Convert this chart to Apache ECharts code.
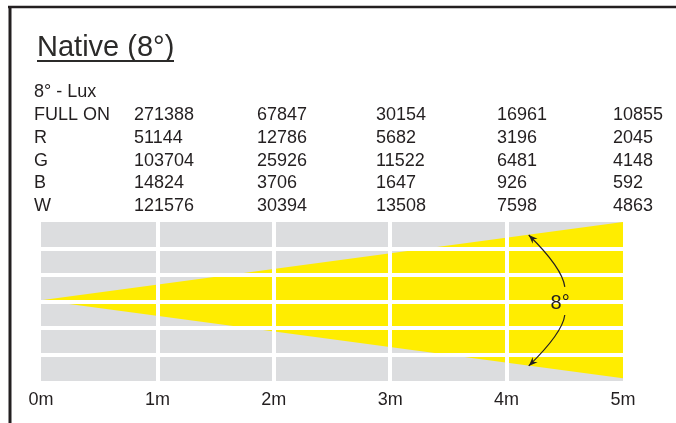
<!DOCTYPE html>
<html>
<head>
<meta charset="utf-8">
<script src="https://cdn.jsdelivr.net/npm/echarts@6/dist/echarts.min.js"></script>
<style>
  html, body { margin: 0; padding: 0; background: #fff; }
  #chart { width: 676px; height: 423px; }
</style>
</head>
<body>
<div id="chart"></div>
<script>
// table data (lux at 1m .. 5m)
const tableHeader = '8° - Lux';
const rowNames = ['FULL ON', 'R', 'G', 'B', 'W'];
const fullOn = [271388, 67847, 30154, 16961, 10855];
const red = [51144, 12786, 5682, 3196, 2045];
const green = [103704, 25926, 11522, 6481, 4148];
const blue = [14824, 3706, 1647, 926, 592];
const white = [121576, 30394, 13508, 7598, 4863];

// beam outline, metres along x / grid rows along y
const beamX = [0, 5, 5];
const beamY = [0.05, 3, -2.9];

// angle arrows: start (on beam edge), control point, end (near the label)
const arcStart = [[4.19, 2.51], [4.19, -2.43]];
const arcCtrl = [[4.48, 1.26], [4.48, -1.19]];
const arcEnd = [[4.5, 0.55], [4.5, -0.51]];
const angleLabel = '8°';
const angleLabelPos = [4.46, -0.06];

const textColor = '#231f20';
const font = 'Liberation Sans, Arial, sans-serif';

let chart = echarts.init(document.getElementById('chart'));

let rows = [fullOn, red, green, blue, white];
let colX = [134, 257, 376, 497, 613];
let rowY = [115, 138, 161, 183, 206];

let texts = [];
texts.push({
    type: 'text', x: 34, y: 92,
    style: { text: tableHeader, font: '18px ' + font, fill: textColor, verticalAlign: 'middle', textVerticalAlign: 'middle' }
});
for (let i = 0; i < rowNames.length; i++) {
    texts.push({
        type: 'text', x: 34, y: rowY[i],
        style: { text: rowNames[i], font: '18px ' + font, fill: textColor, verticalAlign: 'middle', textVerticalAlign: 'middle' }
    });
    for (let j = 0; j < rows[i].length; j++) {
        texts.push({
            type: 'text', x: colX[j], y: rowY[i],
            style: { text: String(rows[i][j]), font: '18px ' + font, fill: textColor, verticalAlign: 'middle', textVerticalAlign: 'middle' }
        });
    }
}

let option = {
    animation: false,
    backgroundColor: '#ffffff',
    grid: {
        left: 41, right: 53, top: 222, bottom: 42,
        show: true, backgroundColor: '#dcdddf', borderWidth: 0,
        outerBoundsMode: 'none'
    },
    xAxis: {
        type: 'value', min: 0, max: 5, interval: 1, z: 10,
        axisLine: { show: false },
        axisTick: { show: false },
        axisLabel: { formatter: '{value}m', fontSize: 18, fontFamily: font, color: textColor, margin: 10 },
        splitLine: { show: true, showMinLine: false, showMaxLine: false, lineStyle: { color: '#ffffff', width: 4 } }
    },
    yAxis: {
        type: 'value', min: -3, max: 3, interval: 1, z: 10,
        axisLine: { show: false },
        axisTick: { show: false },
        axisLabel: { show: false },
        splitLine: { show: true, showMinLine: false, showMaxLine: false, lineStyle: { color: '#ffffff', width: 4 } }
    },
    graphic: [
        // frame
        { type: 'line', shape: { x1: 10, y1: 6, x2: 10, y2: 423 }, style: { stroke: textColor, lineWidth: 3 } },
        { type: 'line', shape: { x1: 8, y1: 7, x2: 676, y2: 7 }, style: { stroke: textColor, lineWidth: 2.5 } },
        // title + underline
        { type: 'text', x: 37, y: 48, style: { text: 'Native (8°)', font: '29px ' + font, fill: '#2b2a29', verticalAlign: 'middle', textVerticalAlign: 'middle' } },
        { type: 'line', shape: { x1: 37, y1: 61, x2: 174, y2: 61 }, style: { stroke: '#2b2a29', lineWidth: 2 } }
    ].concat(texts),
    series: [
        {
            // yellow beam
            type: 'custom',
            coordinateSystem: 'cartesian2d',
            silent: true,
            z: 2,
            data: [0],
            renderItem: function (params, api) {
                let pts = [];
                for (let i = 0; i < beamX.length; i++) {
                    pts.push(api.coord([beamX[i], beamY[i]]));
                }
                return { type: 'polygon', shape: { points: pts }, style: { fill: '#ffed00' } };
            }
        },
        {
            // angle arrows and label, above the white grid
            type: 'custom',
            coordinateSystem: 'cartesian2d',
            silent: true,
            z: 20,
            clip: false,
            data: [0],
            renderItem: function (params, api) {
                let children = [];
                for (let i = 0; i < arcStart.length; i++) {
                    let p0 = api.coord(arcStart[i]);
                    let c = api.coord(arcCtrl[i]);
                    let p1 = api.coord(arcEnd[i]);
                    children.push({
                        type: 'bezierCurve',
                        shape: { x1: p1[0], y1: p1[1], x2: p0[0], y2: p0[1], cpx1: c[0], cpy1: c[1] },
                        style: { stroke: textColor, lineWidth: 1.2, fill: null }
                    });
                    // arrow head at the beam edge
                    let dx = p0[0] - c[0], dy = p0[1] - c[1];
                    let len = Math.sqrt(dx * dx + dy * dy);
                    dx /= len; dy /= len;
                    let bx = p0[0] - dx * 9, by = p0[1] - dy * 9;
                    children.push({
                        type: 'polygon',
                        shape: { points: [p0, [bx - dy * 3.5, by + dx * 3.5], [p0[0] - dx * 6, p0[1] - dy * 6], [bx + dy * 3.5, by - dx * 3.5]] },
                        style: { fill: textColor }
                    });
                }
                let lp = api.coord(angleLabelPos);
                children.push({
                    type: 'text', x: lp[0], y: lp[1],
                    style: { text: angleLabel, font: '20px ' + font, fill: textColor, align: 'center', verticalAlign: 'middle' }
                });
                return { type: 'group', children: children };
            }
        }
    ]
};
chart.setOption(option);
</script>
</body>
</html>
